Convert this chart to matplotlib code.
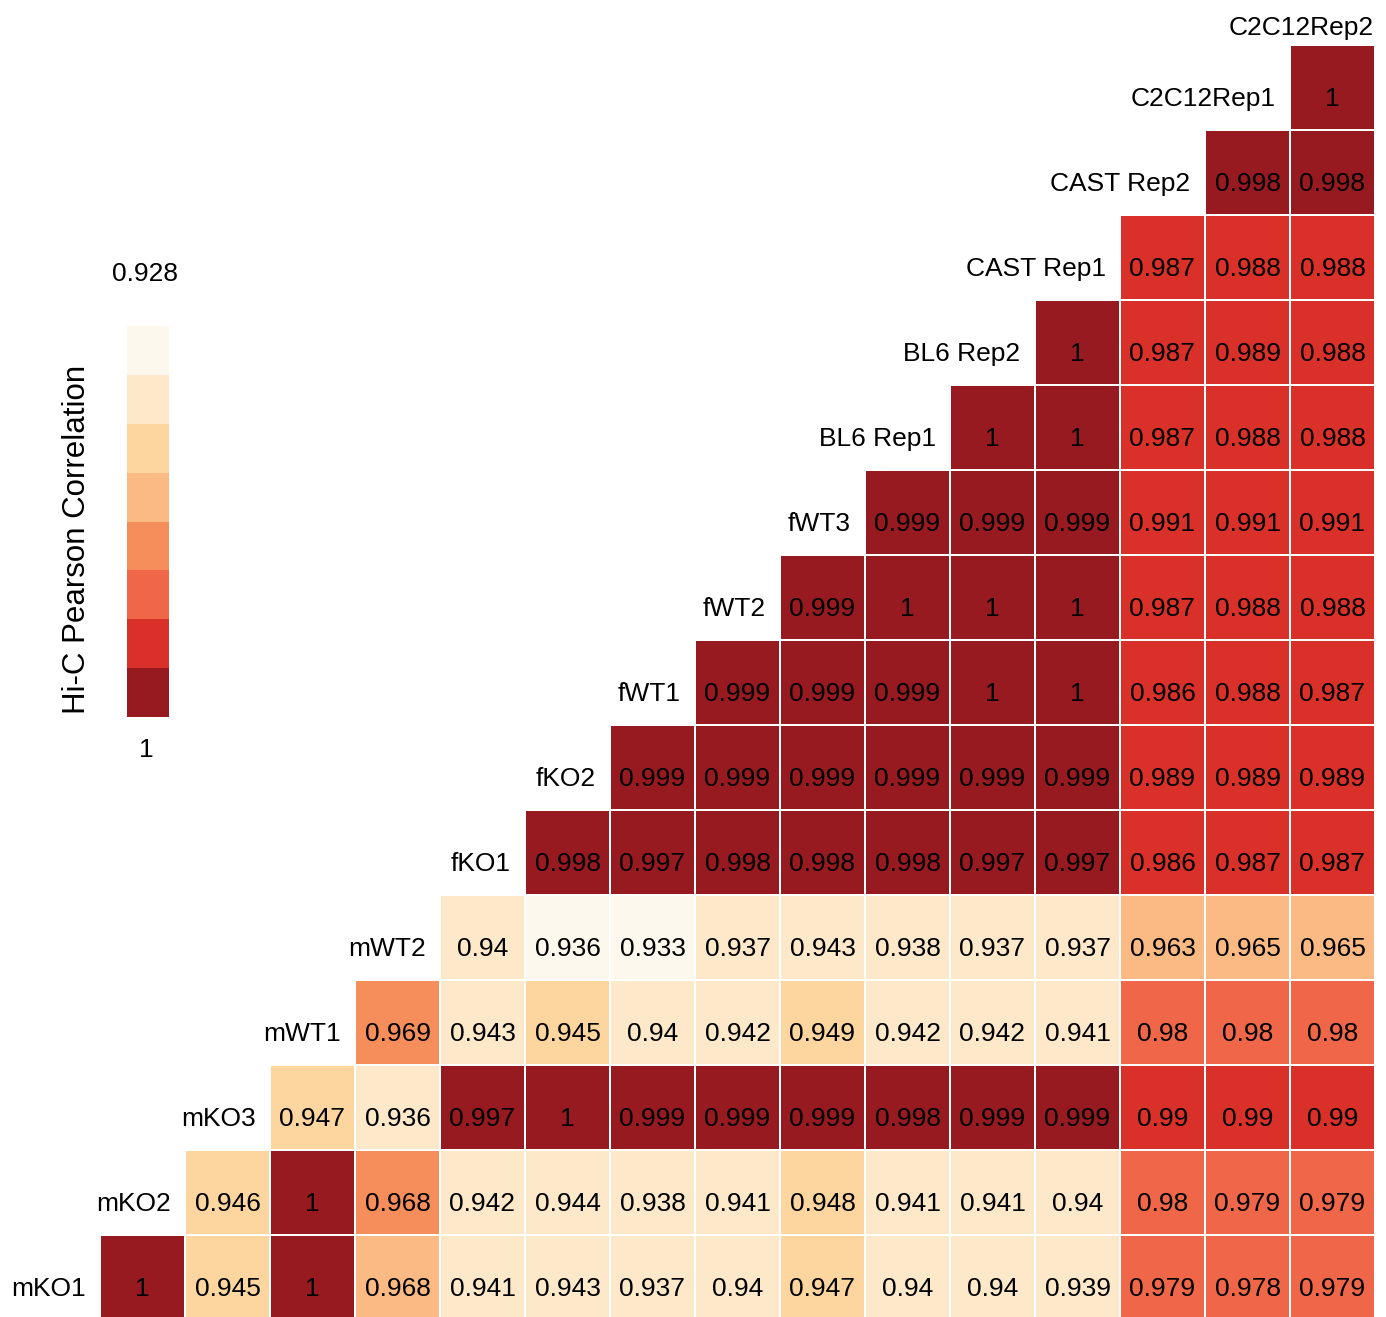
import numpy as np
import matplotlib
matplotlib.use('Agg')
import matplotlib.pyplot as plt
from matplotlib.colors import ListedColormap, BoundaryNorm

plt.rcParams['font.family'] = ['Liberation Sans', 'DejaVu Sans']

# Sample names, bottom row first; the last one only labels the top column
samples = ['mKO1', 'mKO2', 'mKO3', 'mWT1', 'mWT2', 'fKO1', 'fKO2', 'fWT1',
           'fWT2', 'fWT3', 'BL6 Rep1', 'BL6 Rep2', 'CAST Rep1', 'CAST Rep2',
           'C2C12Rep1', 'C2C12Rep2']

# Upper triangle of the Hi-C correlation matrix, one list per row
corr_rows = [
    [1, 0.945, 1, 0.9678, 0.941, 0.943, 0.937, 0.94, 0.947, 0.94, 0.94, 0.939, 0.979, 0.978, 0.979],
    [0.946, 1, 0.968, 0.942, 0.944, 0.938, 0.941, 0.948, 0.941, 0.941, 0.94, 0.98, 0.979, 0.979],
    [0.947, 0.936, 0.997, 1, 0.999, 0.999, 0.999, 0.998, 0.999, 0.999, 0.99, 0.99, 0.99],
    [0.969, 0.943, 0.945, 0.94, 0.942, 0.949, 0.942, 0.942, 0.941, 0.98, 0.98, 0.98],
    [0.94, 0.9358, 0.933, 0.937, 0.943, 0.938, 0.937, 0.937, 0.963, 0.965, 0.965],
    [0.998, 0.997, 0.998, 0.998, 0.998, 0.997, 0.997, 0.986, 0.987, 0.987],
    [0.999, 0.999, 0.999, 0.999, 0.999, 0.999, 0.989, 0.989, 0.989],
    [0.999, 0.999, 0.999, 1, 1, 0.986, 0.988, 0.987],
    [0.999, 1, 1, 1, 0.987, 0.988, 0.988],
    [0.999, 0.999, 0.999, 0.991, 0.991, 0.991],
    [1, 1, 0.987, 0.988, 0.988],
    [1, 0.987, 0.989, 0.988],
    [0.987, 0.988, 0.988],
    [0.998, 0.998],
    [1],
]

# Colour classes
bounds = [0.928, 0.936, 0.9445, 0.955, 0.968, 0.975, 0.983, 0.994, 1.0005]
colors = ['#fdf8ed', '#fde8c9', '#fcd59f', '#fbba84',
          '#f68e5c', '#ef6649', '#d93129', '#961a1f']
cbar_labels = ['0.928', '1']

n = len(corr_rows)
mat = np.full((n, n), np.nan)
for i, row in enumerate(corr_rows):
    mat[i, i:] = row
mat = np.ma.masked_invalid(mat)

cmap = ListedColormap(colors)
norm = BoundaryNorm(bounds, cmap.N)

W, H = 1386, 1317
fig = plt.figure(figsize=(W / 100, H / 100), dpi=100)
ax = fig.add_axes([100 / W, 1 - 1320 / H, 1275 / W, 1275 / H])

mesh = ax.pcolormesh(np.arange(n + 1), np.arange(n + 1), mat, cmap=cmap, norm=norm,
                     edgecolors='white', linewidth=1.2)
ax.set_xlim(0, n)
ax.set_ylim(0, n)
ax.set_axis_off()

fs = 19
# values inside the cells and the row names on the left
for i in range(n):
    for j in range(i, n):
        ax.text(j + 0.5, i + 0.28, format(mat[i, j], '.3g'), ha='center', va='baseline',
                fontsize=fs, color='black')
    ax.text(i - 0.17, i + 0.28, samples[i], ha='right', va='baseline', fontsize=fs)
ax.text(n - 0.02, n + 0.12, samples[-1], ha='right', va='baseline', fontsize=fs,
        clip_on=False)

# colour key
cax = fig.add_axes([127 / W, 1 - 717 / H, 42 / W, 391 / H])
cbar = fig.colorbar(mesh, cax=cax, drawedges=True)
cbar.outline.set_visible(False)
cbar.dividers.set_color('white')
cbar.dividers.set_linewidth(2)
cbar.set_ticks([])
cax.minorticks_off()
cax.tick_params(length=0, which='both')
cax.invert_yaxis()
fig.text(145 / W, 1 - 274 / H, cbar_labels[0], ha='center', va='center', fontsize=fs)
fig.text(146 / W, 1 - 750 / H, cbar_labels[1], ha='center', va='center', fontsize=fs)
fig.text(77 / W, 1 - 539 / H, 'Hi-C Pearson Correlation', rotation=90,
         ha='center', va='center', fontsize=22.5)

fig.savefig('out.png', dpi=100)
